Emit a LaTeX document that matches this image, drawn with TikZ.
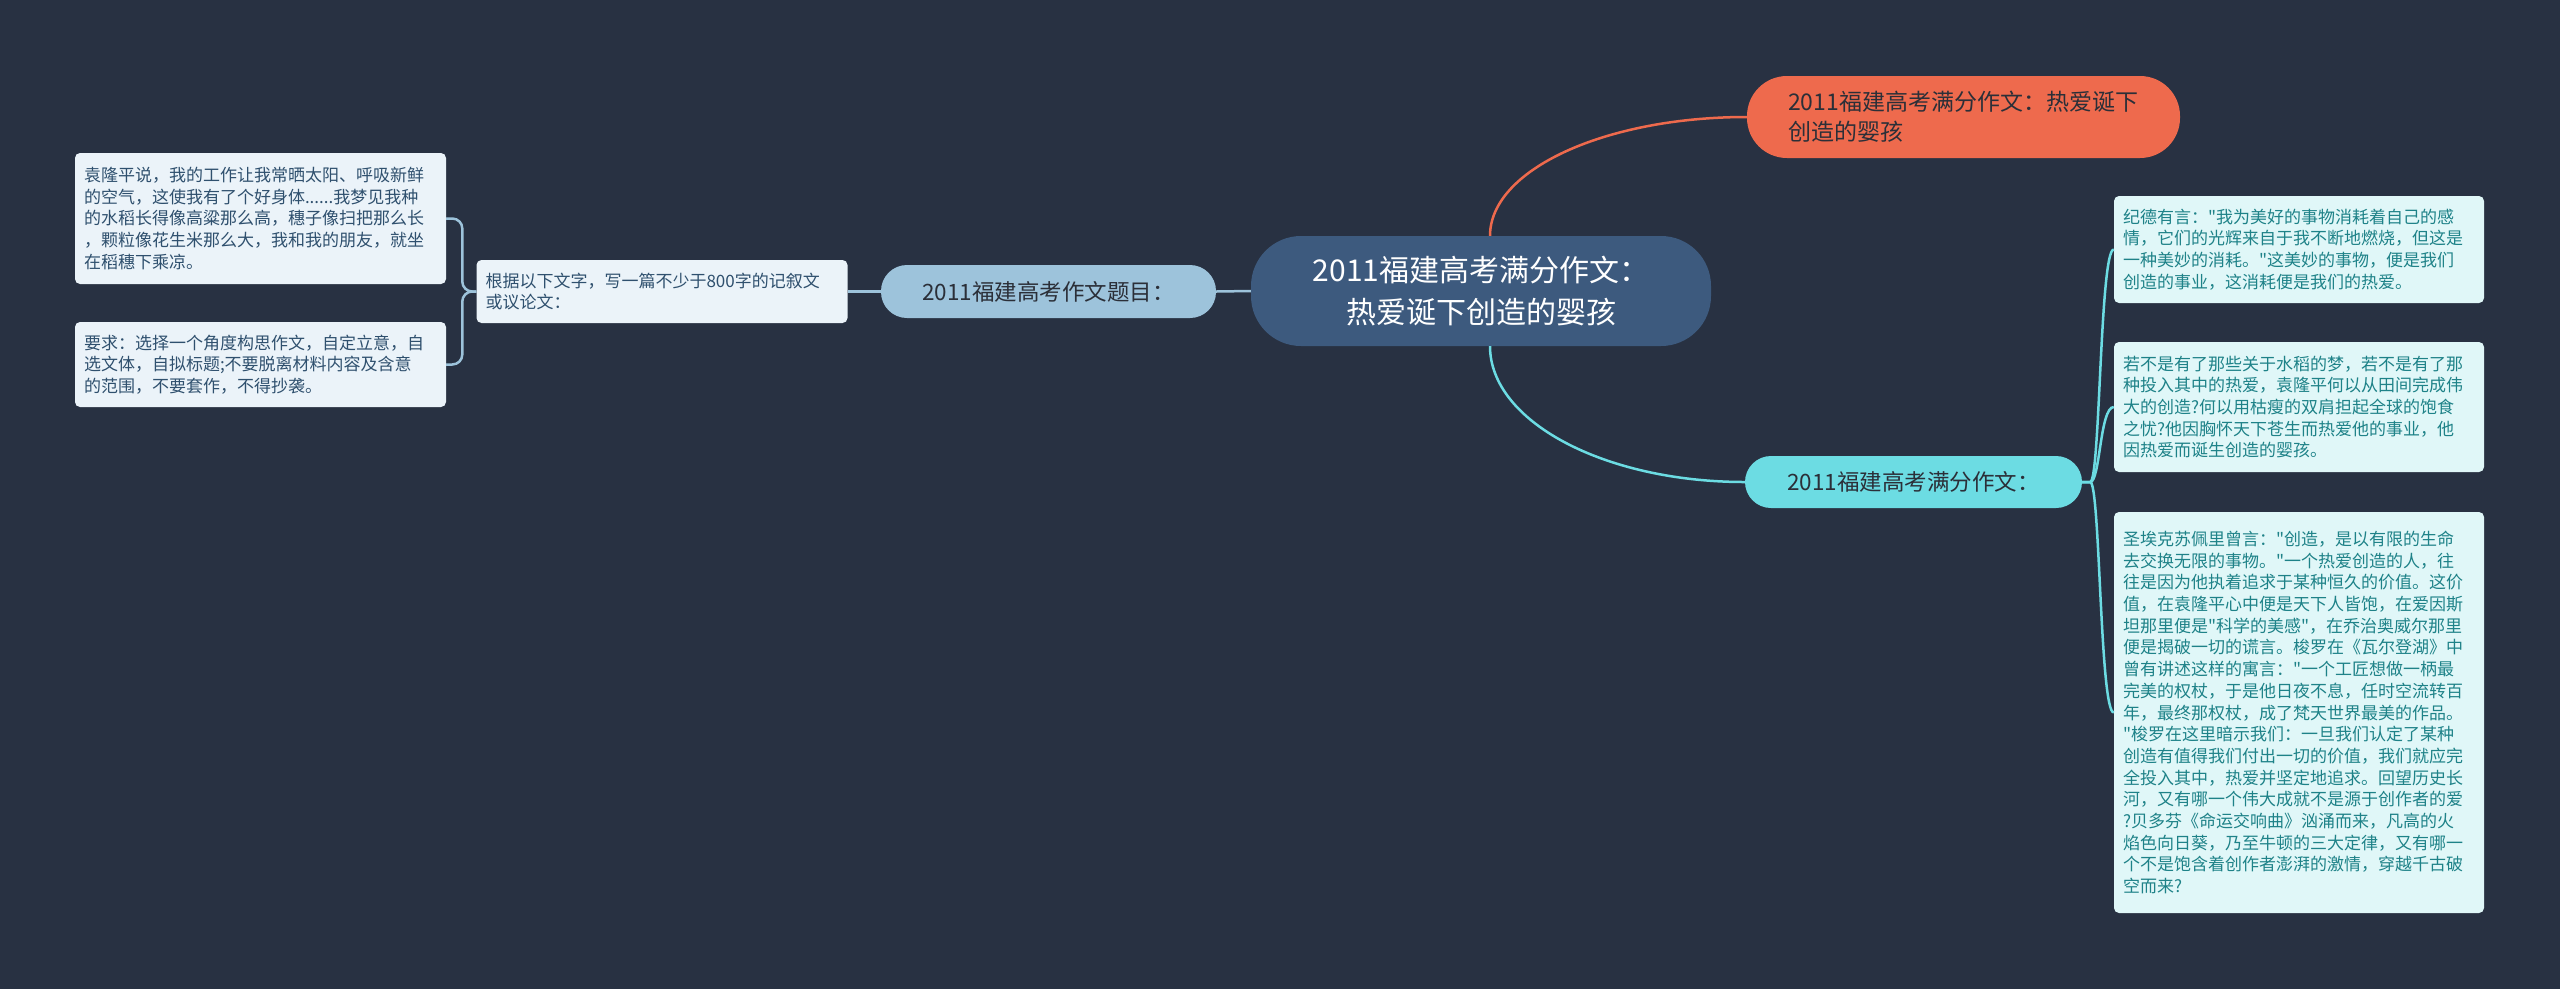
\documentclass[tikz,border=0pt]{standalone}
\usepackage{fontspec}
\setmainfont{Noto Sans CJK SC}[Ligatures=TeXOff]
\definecolor{bg}{HTML}{283142}
\definecolor{cen}{HTML}{3D5A7E}
\definecolor{org}{HTML}{EE6A4D}
\definecolor{cya}{HTML}{6CDCE3}
\definecolor{lbl}{HTML}{9DC3DB}
\definecolor{lfill}{HTML}{EBF3F9}
\definecolor{ltext}{HTML}{2F506E}
\definecolor{rfill}{HTML}{E0F7F8}
\definecolor{rtext}{HTML}{1E8288}
\definecolor{dtext}{HTML}{2B2F38}
\newcommand\leaffont{\fontsize{17}{21.7}\selectfont}
\newcommand\pillfont{\fontsize{22.5}{26}\selectfont}
\begin{document}
\begin{tikzpicture}[x=1pt,y=-1pt,
  leafL/.style={fill=lfill, text=ltext, rounded corners=5pt, font=\leaffont, text width=353pt, align=left, inner xsep=9pt, inner ysep=0pt},
  leafR/.style={fill=rfill, text=rtext, rounded corners=5pt, font=\leaffont, text width=352pt, align=left, inner xsep=9pt, inner ysep=0pt},
  pill/.style={font=\pillfont, text=dtext, align=center, inner sep=0pt},
  lline/.style={draw=lbl, line width=2.5pt},
  cline/.style={draw=cya, line width=2.5pt},
  oline/.style={draw=org, line width=2.5pt}]
\useasboundingbox (0,0) rectangle (2560,989);
\fill[bg] (0,0) rectangle (2560,989);

% nodes
\node[fill=cen, text=white, rounded corners=50pt, minimum width=460pt, minimum height=110pt, inner sep=0pt, align=center, font=\fontsize{30}{42}\selectfont] (c) at (1481,291) {2011福建高考满分作文：\\热爱诞下创造的婴孩};
\node[fill=org, text=dtext, rounded corners=40pt, minimum height=82pt, text width=351pt, inner xsep=41pt, inner ysep=0pt, align=left, font=\fontsize{23}{30}\selectfont] (o) at (1963.5,117) {2011福建高考满分作文：热爱诞下\\创造的婴孩};
\node[pill, fill=cya, rounded corners=26pt, minimum width=337pt, minimum height=52pt] (n) at (1913.5,482) {2011福建高考满分作文：};
\node[pill, fill=lbl, rounded corners=26pt, minimum width=335pt, minimum height=53pt] (t) at (1048.5,291.5) {2011福建高考作文题目：};
\node[leafL, minimum height=63pt] (m) at (662,291.5) {根据以下文字，写一篇不少于800字的记叙文\\或议论文：};
\node[leafL, minimum height=131pt] (l1) at (260.5,218.5) {袁隆平说，我的工作让我常晒太阳、呼吸新鲜\\的空气，这使我有了个好身体......我梦见我种\\的水稻长得像高粱那么高，穗子像扫把那么长\\，颗粒像花生米那么大，我和我的朋友，就坐\\在稻穗下乘凉。};
\node[leafL, minimum height=85pt] (l2) at (260.5,364.5) {要求：选择一个角度构思作文，自定立意，自\\选文体，自拟标题;不要脱离材料内容及含意\\的范围，不要套作，不得抄袭。};
\node[leafR, minimum height=107pt] (r1) at (2299,249.5) {纪德有言："我为美好的事物消耗着自己的感\\情，它们的光辉来自于我不断地燃烧，但这是\\一种美妙的消耗。"这美妙的事物，便是我们\\创造的事业，这消耗便是我们的热爱。};
\node[leafR, minimum height=130pt] (r2) at (2299,407) {若不是有了那些关于水稻的梦，若不是有了那\\种投入其中的热爱，袁隆平何以从田间完成伟\\大的创造?何以用枯瘦的双肩担起全球的饱食\\之忧?他因胸怀天下苍生而热爱他的事业，他\\因热爱而诞生创造的婴孩。};
\node[leafR, minimum height=401pt] (r3) at (2299,712.5) {圣埃克苏佩里曾言："创造，是以有限的生命\\去交换无限的事物。"一个热爱创造的人，往\\往是因为他执着追求于某种恒久的价值。这价\\值，在袁隆平心中便是天下人皆饱，在爱因斯\\坦那里便是"科学的美感"，在乔治奥威尔那里\\便是揭破一切的谎言。梭罗在《瓦尔登湖》中\\曾有讲述这样的寓言："一个工匠想做一柄最\\完美的权杖，于是他日夜不息，任时空流转百\\年，最终那权杖，成了梵天世界最美的作品。\\"梭罗在这里暗示我们：一旦我们认定了某种\\创造有值得我们付出一切的价值，我们就应完\\全投入其中，热爱并坚定地追求。回望历史长\\河，又有哪一个伟大成就不是源于创作者的爱\\?贝多芬《命运交响曲》汹涌而来，凡高的火\\焰色向日葵，乃至牛顿的三大定律，又有哪一\\个不是饱含着创作者澎湃的激情，穿越千古破\\空而来?};

% connectors
\draw[oline] ([xshift=9pt]c.north) .. controls +(0,-66) and +(-142,0) .. (o.west);
\draw[cline] ([xshift=9pt]c.south) .. controls +(0,75) and +(-141,0) .. (n.west);
\draw[lline] (c.west) -- (t.east);
\draw[lline] (t.west) -- (m.east);
\draw[lline, rounded corners=10pt] (m.west) -- ++(-14,0) |- (l1.east);
\draw[lline, rounded corners=10pt] (m.west) -- ++(-14,0) |- (l2.east);
\draw[cline] (n.east) -- ++(8,0) .. controls +(10,0) and ([xshift=-14pt]r1.west) .. (r1.west);
\draw[cline] (n.east) -- ++(8,0) .. controls +(10,0) and ([xshift=-14pt]r2.west) .. (r2.west);
\draw[cline] (n.east) -- ++(8,0) .. controls +(10,0) and ([xshift=-14pt]r3.west) .. (r3.west);
\end{tikzpicture}
\end{document}
